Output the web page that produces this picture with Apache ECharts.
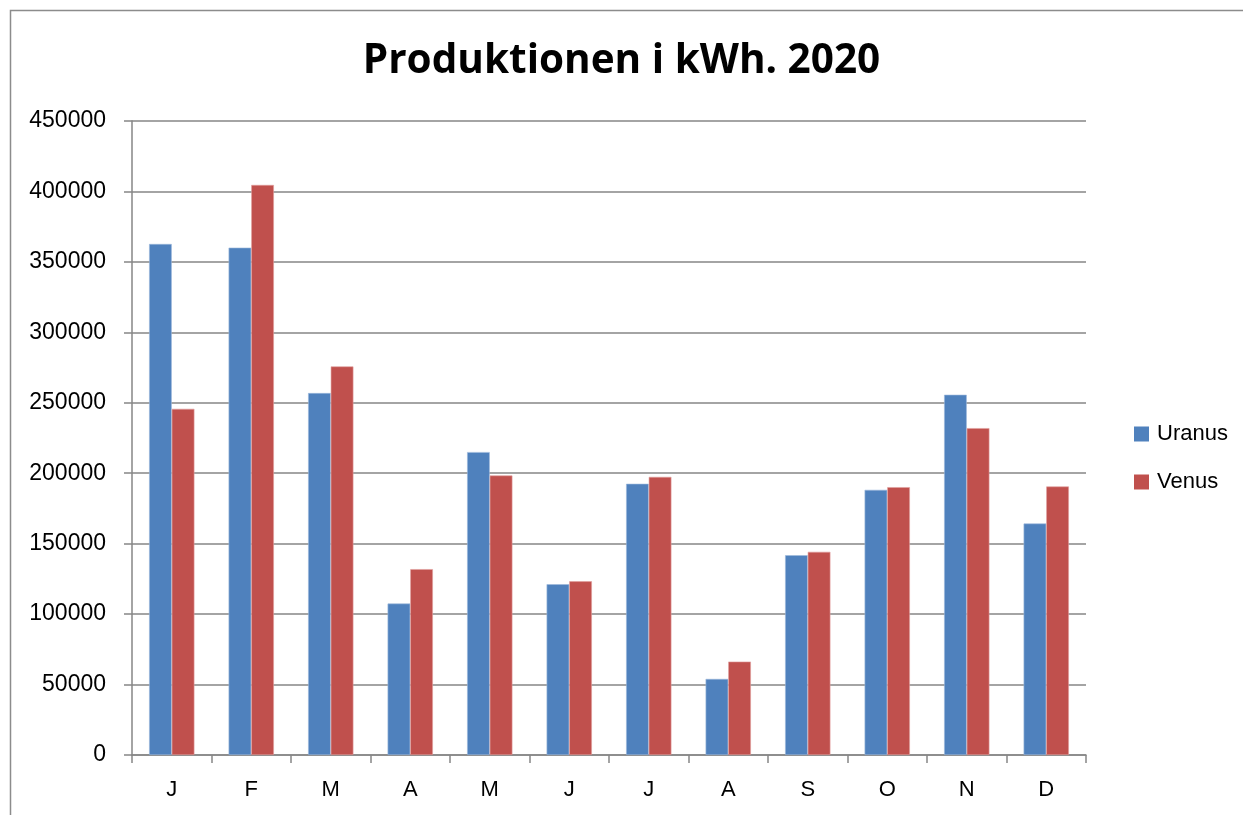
<!DOCTYPE html>
<html>
<head>
<meta charset="utf-8">
<script src="https://cdn.jsdelivr.net/npm/echarts@6/dist/echarts.min.js"></script>
<style>html,body{margin:0;padding:0;background:#fff}#c{width:1243px;height:815px}</style>
</head>
<body>
<div id="c"></div>
<script>
const months = ['J','F','M','A','M','J','J','A','S','O','N','D'];
const uranus = [362700, 360100, 256900, 107500, 215000, 121200, 192500, 54000, 141800, 188200, 255700, 164300];
const venus  = [245700, 404600, 275800, 131900, 198400, 123300, 197400, 66300, 144200, 190100, 232000, 190600];
const yTicks = { min: 0, max: 450000, interval: 50000 };

const chart = echarts.init(document.getElementById('c'), null, { renderer: 'canvas' });
const font = 'Liberation Sans, Arial, sans-serif';
chart.setOption({
  animation: false,
  backgroundColor: '#fff',
  graphic: [{
    type: 'polyline', silent: true,
    shape: { points: [[10.5, 815], [10.5, 10.5], [1243, 10.5]] },
    style: { stroke: '#8c8c8c', lineWidth: 1.5, fill: null }
  }],
  title: {
    text: 'Produktionen i kWh. 2020',
    left: 'center', top: 36,
    textStyle: { fontFamily: 'Open Sans, sans-serif', fontWeight: 'bold', fontSize: 40.5, color: '#000' }
  },
  legend: {
    orient: 'vertical', left: 1129, top: 418,
    itemWidth: 15, itemHeight: 15, itemGap: 26,
    icon: 'rect',
    itemStyle: { borderWidth: 0 },
    textStyle: { fontFamily: font, fontSize: 22, color: '#000', padding: [0, 0, 0, 3] },
    data: ['Uranus', 'Venus']
  },
  grid: { left: 132, right: 157, top: 121, bottom: 60, containLabel: false },
  xAxis: {
    type: 'category', data: months,
    axisLine: { lineStyle: { color: '#868686', width: 1.5 } },
    axisTick: { show: true, length: 8, alignWithLabel: false, lineStyle: { color: '#868686', width: 1.5 } },
    axisLabel: { fontFamily: font, fontSize: 22, color: '#000', margin: 24 }
  },
  yAxis: {
    type: 'value', min: yTicks.min, max: yTicks.max, interval: yTicks.interval,
    axisLine: { show: true, lineStyle: { color: '#868686', width: 1.5 } },
    axisTick: { show: true, length: 8, lineStyle: { color: '#868686', width: 1.5 } },
    axisLabel: { fontFamily: font, fontSize: 23, color: '#000', margin: 26, formatter: v => String(v) },
    splitLine: { lineStyle: { color: '#868686', width: 1.5 } }
  },
  series: [
    { name: 'Uranus', type: 'bar', data: uranus, barGap: '0%', barCategoryGap: '43%',
      itemStyle: { color: '#4F81BD', borderColor: '#9DB9DB', borderWidth: 0.6 } },
    { name: 'Venus', type: 'bar', data: venus, barGap: '0%', barCategoryGap: '43%',
      itemStyle: { color: '#C0504D', borderColor: '#E0A09E', borderWidth: 0.6 } }
  ]
});
</script>
</body>
</html>
